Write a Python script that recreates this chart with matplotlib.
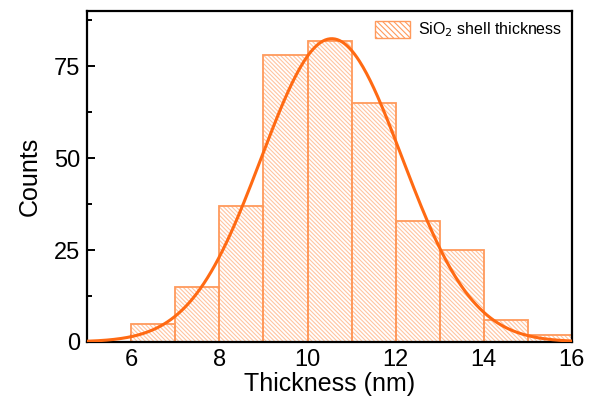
import numpy as np
import matplotlib
matplotlib.use("Agg")
import matplotlib.pyplot as plt

plt.rcParams['font.family'] = ['Liberation Sans', 'DejaVu Sans']
plt.rcParams['hatch.linewidth'] = 0.8

bin_left = [6, 7, 8, 9, 10, 11, 12, 13, 14, 15]
counts = [5, 15, 37, 78, 82, 65, 33, 25, 6, 2]
fit_mu = 10.55
fit_sigma = 1.6
fit_amp = 82.5

fig = plt.figure(figsize=(5.89, 4.12), dpi=100)
ax = fig.add_axes([0.148, 0.170, 0.823, 0.803])

orange = '#FF6A13'
hatch_col = '#FFC4A0'
edge_col = '#FF9A5C'
# hatch layer
ax.bar(bin_left, counts, width=1.0, align='edge', facecolor='white',
       edgecolor=hatch_col, hatch='\\\\\\\\\\\\\\\\', linewidth=0, zorder=2)
# outline layer
ax.bar(bin_left, counts, width=1.0, align='edge', facecolor='none',
       edgecolor=edge_col, linewidth=1.3, zorder=2.5)

xs = np.linspace(5, 16, 400)
ys = fit_amp * np.exp(-0.5 * ((xs - fit_mu) / fit_sigma) ** 2)
ax.plot(xs, ys, color=orange, lw=2.2, zorder=3)

ax.set_xlim(5, 16)
ax.set_ylim(0, 90)
ax.set_xticks([6, 8, 10, 12, 14, 16])
ax.set_xticks([5, 7, 9, 11, 13, 15], minor=True)
ax.set_yticks([0, 25, 50, 75])
ax.set_yticks([12.5, 37.5, 62.5, 87.5], minor=True)
ax.tick_params(which='both', direction='in', width=1.4, labelsize=17)
ax.tick_params(which='major', length=6, pad=5)
ax.tick_params(which='minor', length=3.5)
for s in ax.spines.values():
    s.set_linewidth(1.6)

ax.set_xlabel('Thickness (nm)', fontsize=18, labelpad=1)
ax.set_ylabel('Counts', fontsize=18, labelpad=9)

from matplotlib.patches import Patch
handle = Patch(facecolor='white', edgecolor=edge_col, hatch='\\\\\\\\\\\\', linewidth=1.0)
leg = ax.legend([handle], ['SiO$_2$ shell thickness'], loc='upper right',
                frameon=False, fontsize=11.5, handlelength=2.2, handleheight=1.2,
                borderaxespad=0.2, handletextpad=0.5)

fig.savefig('out.png', dpi=100)
